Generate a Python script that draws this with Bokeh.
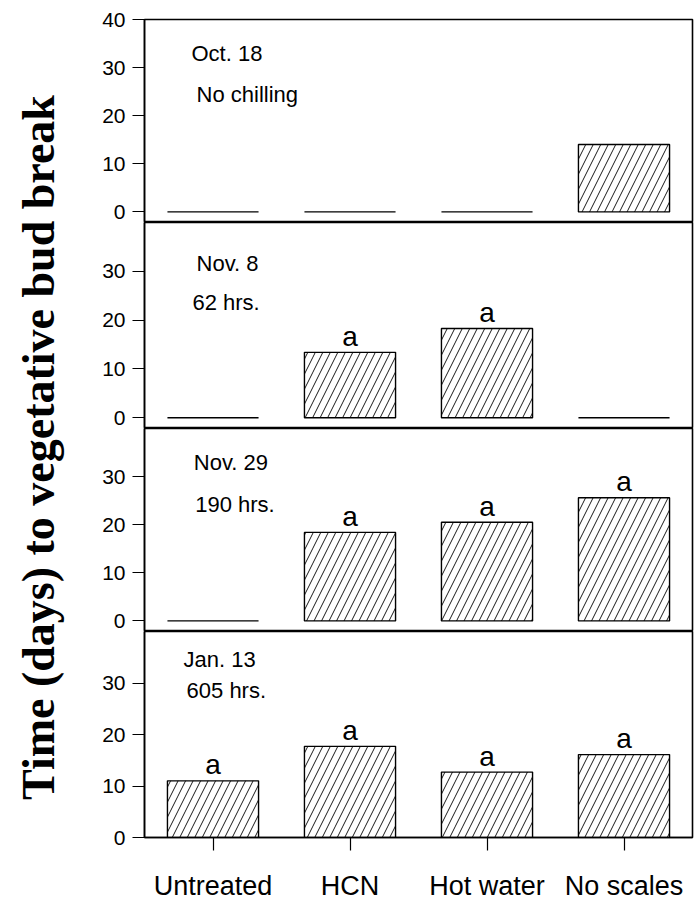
import math
from bokeh.plotting import figure
from bokeh.layouts import column, row
from bokeh.models import Range1d, FactorRange, FixedTicker, Label, ColumnDataSource
from bokeh.embed import file_html
from bokeh.resources import INLINE
from bokeh.core.properties import value

# ---------------- data ----------------
treatments = ["Untreated", "HCN", "Hot water", "No scales"]
panel_dates = ["Oct. 18", "Nov. 8", "Nov. 29", "Jan. 13"]
panel_chilling = ["No chilling", "62 hrs.", "190 hrs.", "605 hrs."]

days_oct18 = [0.0, 0.0, 0.0, 14.0]
days_nov8 = [0.0, 13.4, 18.3, 0.0]
days_nov29 = [0.0, 18.4, 20.5, 25.6]
days_jan13 = [11.0, 17.7, 12.7, 16.1]

sig_oct18 = ["", "", "", ""]
sig_nov8 = ["", "a", "a", ""]
sig_nov29 = ["", "a", "a", "a"]
sig_jan13 = ["a", "a", "a", "a"]

y_tick_values = [0, 10, 20, 30, 40]
y_label = "Time (days) to vegetative bud break"

# ---------------- styling ----------------
SANS = "Liberation Sans"
SERIF = "Liberation Serif"

panel_days = [days_oct18, days_nov8, days_nov29, days_jan13]
panel_sig = [sig_oct18, sig_nov8, sig_nov29, sig_jan13]
frame_heights = [203, 206, 203, 206]
y_starts = [-2.2, -2.2, -2.2, 0.0]
date_pos = [(0.343, 33.0), (0.38, 31.5), (0.36, 32.9), (0.285, 34.6)]
chill_pos = [(0.38, 24.5), (0.35, 23.6), (0.37, 24.2), (0.307, 28.5)]

x_range = FactorRange(factors=treatments, range_padding=0)

plots = []
n = len(panel_days)
for i in range(n):
    last = i == n - 1
    first = i == 0
    p = figure(
        x_range=x_range,
        y_range=Range1d(y_starts[i], 40),
        frame_width=548,
        frame_height=frame_heights[i],
        min_border_left=76,
        min_border_right=2,
        min_border_top=19 if first else 0,
        min_border_bottom=0,
        x_axis_location="below" if last else None,
        toolbar_location=None,
        output_backend="svg",
        background_fill_color="white",
        border_fill_color="white",
    )
    p.xgrid.visible = False
    p.ygrid.visible = False
    p.outline_line_color = "black"
    p.outline_line_width = 1.6

    ticks = [t for t in y_tick_values if first or t < 40]
    overrides = {}
    if not last:
        # panel separator extends left of the axis like a tick
        sep = y_starts[i] + 0.05
        ticks = [sep] + ticks
        overrides = {sep: ""}
    yax = p.yaxis[0]
    yax.ticker = FixedTicker(ticks=ticks)
    yax.major_label_overrides = overrides
    yax.axis_line_color = "black"
    yax.axis_line_width = 1.5
    yax.major_tick_line_color = "black"
    yax.major_tick_line_width = 1.2
    yax.major_tick_out = 12
    yax.major_tick_in = 0
    yax.minor_tick_line_color = None
    yax.major_label_standoff = 7
    yax.major_label_text_font = SANS
    yax.major_label_text_font_size = "21px"
    yax.major_label_text_color = "black"

    if last:
        xax = p.xaxis[0]
        xax.axis_line_color = "black"
        xax.axis_line_width = 1.6
        xax.major_tick_line_color = "black"
        xax.major_tick_line_width = 1.2
        xax.major_tick_out = 13
        xax.major_tick_in = 0
        xax.minor_tick_line_color = None
        xax.major_label_standoff = 20
        xax.major_label_text_font = SANS
        xax.major_label_text_font_size = "27px"
        xax.major_label_text_color = "black"

    src = ColumnDataSource(dict(cat=treatments, days=panel_days[i], sig=panel_sig[i]))
    p.vbar(x="cat", top="days", bottom=0, width=0.665, source=src,
           fill_color="white", line_color="black", line_width=1.4,
           hatch_pattern="/", hatch_scale=15, hatch_color="black", hatch_weight=0.9)
    p.text(x="cat", y="days", text="sig", source=src,
           text_font=value(SANS), text_font_size="28px", text_color="black",
           text_align="center", text_baseline="alphabetic", y_offset=-16)

    p.add_layout(Label(x=date_pos[i][0], y=date_pos[i][1], text=panel_dates[i],
                       text_font=SANS, text_font_size="22px", text_color="black",
                       text_align="left", text_baseline="middle"))
    p.add_layout(Label(x=chill_pos[i][0], y=chill_pos[i][1], text=panel_chilling[i],
                       text_font=SANS, text_font_size="22px", text_color="black",
                       text_align="left", text_baseline="middle"))
    plots.append(p)

LH = 890
lab = figure(width=68, height=LH, x_range=Range1d(0, 68), y_range=Range1d(LH, 0),
             min_border=0, toolbar_location=None, output_backend="svg",
             x_axis_location=None, y_axis_location=None,
             background_fill_color="white", border_fill_color="white")
lab.xgrid.visible = False
lab.ygrid.visible = False
lab.outline_line_color = None
lab.add_layout(Label(x=38, y=447, text=y_label, angle=math.pi / 2,
                     text_font=SERIF, text_font_style="bold", text_font_size="46px",
                     text_color="black", text_align="center", text_baseline="middle"))

layout = row(lab, column(*plots, spacing=0), spacing=0)

open("out.html", "w").write(file_html(layout, INLINE))
